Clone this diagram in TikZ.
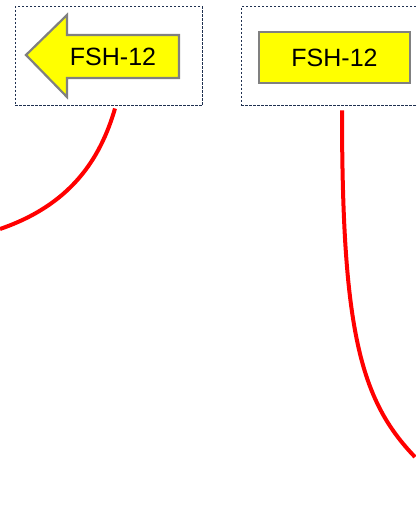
\documentclass[tikz,border=0pt]{standalone}
\usepackage{fontspec}
\setmainfont{Liberation Sans}
\definecolor{framenavy}{HTML}{1F3050}
\definecolor{tagyellow}{HTML}{FFFF00}
\definecolor{taggray}{HTML}{808080}
\definecolor{wirered}{HTML}{FF0000}
\tikzset{
  framebox/.style={draw=framenavy, line width=1pt, dash pattern=on 2.5pt off 1.5pt},
  tagshape/.style={draw=taggray, fill=tagyellow, line width=2.2pt},
  taglabel/.style={font=\fontsize{25}{29}\selectfont, text=black, inner sep=0pt},
  wire/.style={draw=wirered, line width=4pt}
}
\begin{document}
\begin{tikzpicture}[x=1pt, y=-1pt]
		%%%%% START %%%%%
		\useasboundingbox (0, 0) rectangle (415, 526);
		
		\node[framebox, minimum width=187pt, minimum height=99pt, inner sep=0pt] (leftframe) at (108.5, 56.5) {};
		\node[framebox, minimum width=180pt, minimum height=99pt, inner sep=0pt] (rightframe) at (331, 56.5) {};
		
		\draw[tagshape, line join=miter] (26, 55) -- (67, 15) -- (67, 35) -- (179, 35) -- (179, 78) -- (67, 78) -- (67, 97) -- cycle;
		\node[taglabel] (lefttag) at (113, 57) {FSH-12};
		
		\node[tagshape, minimum width=151pt, minimum height=51pt, inner sep=0pt] (righttag) at (334.5, 57.5) {};
		\node[taglabel] (righttext) at (righttag) {FSH-12};
		
		\coordinate (leftend) at (0, 229);
		\coordinate (rightend) at (415, 457);
		
		\draw[wire] ([xshift=6.5pt, yshift=-2pt]leftframe.south) .. controls (100, 160) and (70, 205) .. (leftend);
		\draw[wire] ([xshift=11pt, yshift=-4pt]rightframe.south) .. controls (342, 330) and (360, 400) .. (rightend);
		
		%%%%% END %%%%%
	\end{tikzpicture}
\end{document}
